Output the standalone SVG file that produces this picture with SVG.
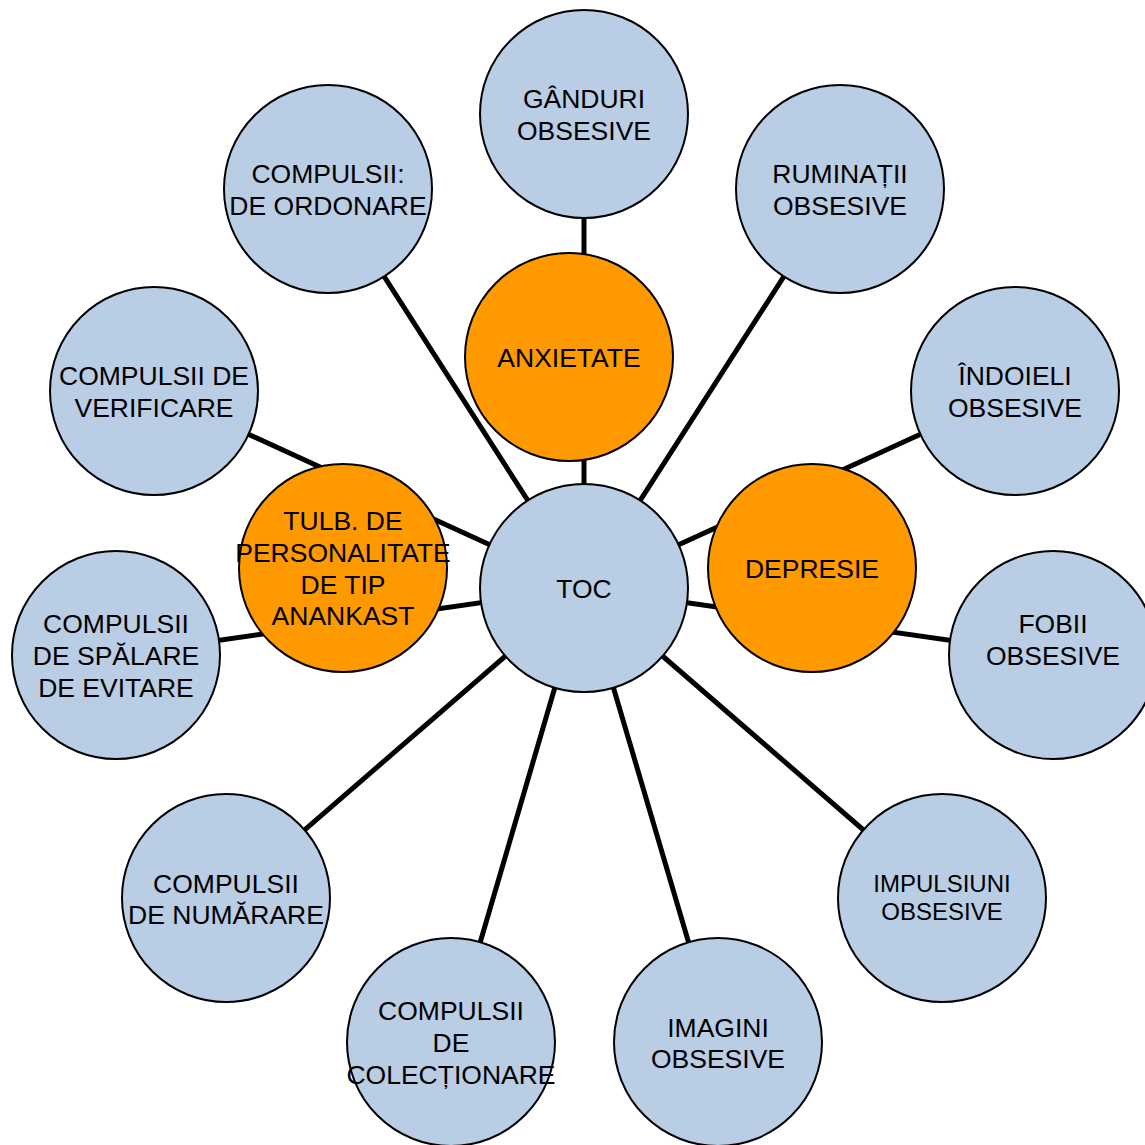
<svg xmlns="http://www.w3.org/2000/svg" width="1145" height="1145" viewBox="0 0 1145 1145">
<style>
.conn{stroke:#000;stroke-width:5;fill:none}
.b{fill:#B9CDE5;stroke:#000;stroke-width:2}
.o{fill:#FF9900;stroke:#000;stroke-width:2}
text{font-family:"Liberation Sans",Arial,sans-serif;font-size:26.5px;fill:#000;text-anchor:middle}
.sm{font-size:24px}
</style>
<rect width="1145" height="1145" fill="#fff"/>
<g id="connectors">
<line class="conn" x1="584" y1="588" x2="584" y2="114"/>
<line class="conn" x1="584" y1="588" x2="840" y2="189"/>
<line class="conn" x1="584" y1="588" x2="328" y2="189"/>
<line class="conn" x1="584" y1="588" x2="1015" y2="391"/>
<line class="conn" x1="584" y1="588" x2="154" y2="391"/>
<line class="conn" x1="584" y1="588" x2="1053" y2="655"/>
<line class="conn" x1="584" y1="588" x2="116" y2="655"/>
<line class="conn" x1="584" y1="588" x2="942" y2="898"/>
<line class="conn" x1="584" y1="588" x2="226" y2="898"/>
<line class="conn" x1="584" y1="588" x2="718" y2="1042"/>
<line class="conn" x1="584" y1="588" x2="451" y2="1042"/>
</g>
<g id="ganduri"><circle class="b" cx="584" cy="114" r="104"/><text x="584" y="108">GÂNDURI</text><text x="584" y="139.5">OBSESIVE</text></g>
<g id="ruminatii"><circle class="b" cx="840" cy="189" r="104"/><text x="840" y="183">RUMINAȚII</text><text x="840" y="214.5">OBSESIVE</text></g>
<g id="ordonare"><circle class="b" cx="328" cy="189" r="104"/><text x="328" y="183">COMPULSII:</text><text x="328" y="214.5">DE ORDONARE</text></g>
<g id="anxietate"><circle class="o" cx="569" cy="357" r="104"/><text x="569" y="366.5">ANXIETATE</text></g>
<g id="indoieli"><circle class="b" cx="1015" cy="391" r="104"/><text x="1015" y="385">ÎNDOIELI</text><text x="1015" y="416.5">OBSESIVE</text></g>
<g id="verificare"><circle class="b" cx="154" cy="391" r="104"/><text x="154" y="385">COMPULSII DE</text><text x="154" y="416.5">VERIFICARE</text></g>
<g id="fobii"><circle class="b" cx="1053" cy="655" r="104"/><text x="1053" y="633">FOBII</text><text x="1053" y="665">OBSESIVE</text></g>
<g id="spalare"><circle class="b" cx="116" cy="655" r="104"/><text x="116" y="633">COMPULSII</text><text x="116" y="665">DE SPĂLARE</text><text x="116" y="697">DE EVITARE</text></g>
<g id="tulb"><circle class="o" cx="343" cy="568" r="104"/><text x="343" y="530">TULB. DE</text><text x="343" y="562">PERSONALITATE</text><text x="343" y="593.5">DE TIP</text><text x="343" y="625">ANANKAST</text></g>
<g id="depresie"><circle class="o" cx="812" cy="568" r="104"/><text x="812" y="577.5">DEPRESIE</text></g>
<g id="toc"><circle class="b" cx="584" cy="588" r="104"/><text x="584" y="597.5">TOC</text></g>
<g id="numarare"><circle class="b" cx="226" cy="898" r="104"/><text x="226" y="893">COMPULSII</text><text x="226" y="924">DE NUMĂRARE</text></g>
<g id="impulsiuni"><circle class="b" cx="942" cy="898" r="104"/><text class="sm" x="942" y="892">IMPULSIUNI</text><text class="sm" x="942" y="920">OBSESIVE</text></g>
<g id="colectionare"><circle class="b" cx="451" cy="1042" r="104"/><text x="451" y="1020">COMPULSII</text><text x="451" y="1052">DE</text><text x="451" y="1083.5">COLECȚIONARE</text></g>
<g id="imagini"><circle class="b" cx="718" cy="1042" r="104"/><text x="718" y="1037">IMAGINI</text><text x="718" y="1068">OBSESIVE</text></g>
</svg>
